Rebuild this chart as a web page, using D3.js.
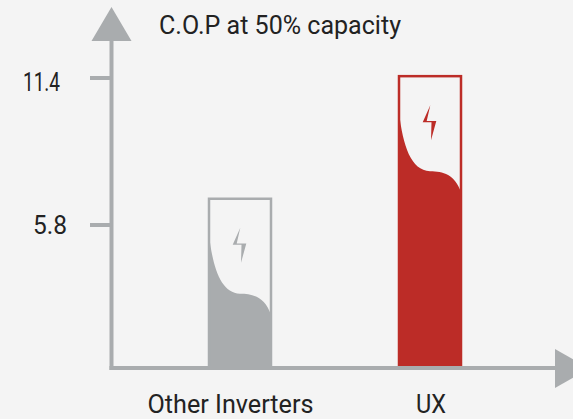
<!DOCTYPE html>
<html><head><meta charset="utf-8">
<script src="https://cdn.jsdelivr.net/npm/d3@7"></script>
<style>html,body{margin:0;padding:0;background:#f4f4f4;overflow:hidden}svg{display:block}text{font-family:Roboto,sans-serif;fill:#222}</style>
</head><body><script>
const categories = ["Other Inverters", "UX"];
const values = [6.8, 11.47];
const colors = ["#a9acae", "#bc2c27"];
const tickValues = [5.8, 11.4];
const tickLabels = ["5.8", "11.4"];
const title = "C.O.P at 50% capacity";

const W = 573, H = 419;
const baseY = 368, axisX = 111.5;
const svg = d3.select("body").append("svg").attr("width", W).attr("height", H);
const y = d3.scaleLinear().domain([5.8, 11.4]).range([225, 78]);
const x = d3.scalePoint().domain(categories).range([240, 430]);
const barW = 62, gray = "#a9acae";
const labelX = d3.scalePoint().domain(categories).range([230.5, 431]);

const g = svg.append("g");
categories.forEach((c, i) => {
  const cx = x(c), top = y(values[i]), l = cx - barW / 2, r = cx + barW / 2;
  const p = d3.path();
  p.moveTo(l, baseY); p.lineTo(l, top + 36);
  p.bezierCurveTo(l + 4, top + 70, l + 12, top + 94, l + 31, top + 95);
  p.bezierCurveTo(l + 44, top + 95, l + 56, top + 98, r, top + 116);
  p.lineTo(r, baseY); p.closePath();
  g.append("path").attr("d", p.toString()).attr("fill", colors[i]);
  g.append("rect").attr("x", l).attr("y", top).attr("width", barW).attr("height", baseY - top)
    .attr("fill", "none").attr("stroke", colors[i]).attr("stroke-width", 2.5);
  const bolt = [[32.3,30],[24.7,47],[33.5,47],[33,65],[38.3,45.8],[28.7,45.8]];
  g.append("polygon").attr("points", bolt.map(d => [l - 1 + d[0], top - 1 + d[1]].join(",")).join(" "))
    .attr("fill", colors[i]);
  g.append("text").attr("x", labelX(c)).attr("y", 413).attr("text-anchor", "middle").attr("font-size", 25).attr("font-weight", 400)
    .attr("textLength", i === 0 ? 166 : 30).attr("lengthAdjust", "spacingAndGlyphs").text(c);
});

g.append("line").attr("x1", axisX).attr("x2", axisX).attr("y1", 38).attr("y2", baseY + 2).attr("stroke", gray).attr("stroke-width", 4);
g.append("line").attr("x1", axisX - 2).attr("x2", 558).attr("y1", baseY).attr("y2", baseY).attr("stroke", gray).attr("stroke-width", 4);
g.append("polygon").attr("points", `${axisX},7 ${axisX - 20},41 ${axisX + 20},41`).attr("fill", gray);
g.append("polygon").attr("points", `555,349 589,368.5 555,388`).attr("fill", gray);

tickValues.forEach((v, i) => {
  g.append("line").attr("x1", 90).attr("x2", axisX).attr("y1", y(v)).attr("y2", y(v)).attr("stroke", gray).attr("stroke-width", 4);
  g.append("text").attr("x", i === 0 ? 67 : 60).attr("y", y(v) + (i === 0 ? 9 : 13)).attr("text-anchor", "end").attr("font-size", 25).attr("font-weight", 400)
    .attr("textLength", i === 0 ? 34 : 37).attr("lengthAdjust", "spacingAndGlyphs").text(tickLabels[i]);
});
g.append("text").attr("x", 159).attr("y", 34).attr("font-size", 25).attr("font-weight", 400)
  .attr("textLength", 242).attr("lengthAdjust", "spacingAndGlyphs").text(title);
</script></body></html>
